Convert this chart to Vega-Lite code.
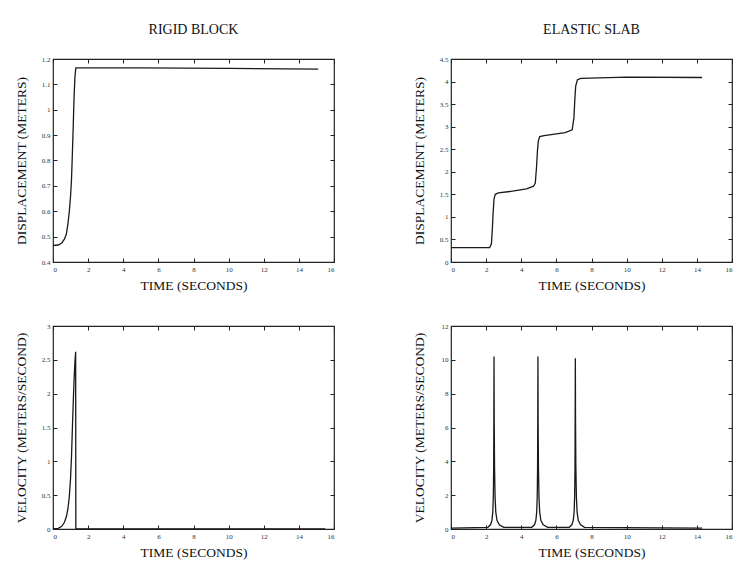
{
  "$schema": "https://vega.github.io/schema/vega-lite/v6.json",
  "background": "white",
  "padding": {"left": 13, "top": 22, "right": 5, "bottom": 5},
  "config": {
    "font": "Liberation Serif",
    "view": {"stroke": "#222", "strokeWidth": 1.2},
    "axis": {"domain": false, "grid": false, "tickSize": -4, "tickColor": "#222", "tickWidth": 1, "labelFontSize": 7, "labelColor": "#333", "labelPadding": 7, "titleFontSize": 13.5, "titleFontWeight": "normal", "titleColor": "#111", "labelFont": "Liberation Serif", "titleFont": "Liberation Serif"},
    "title": {"fontSize": 14, "font": "Liberation Serif", "fontWeight": "normal", "color": "#111"},
    "line": {"color": "#1a1a1a", "strokeWidth": 1.3}
  },
  "datasets": {
    "rigid_disp": [
      {"t": 0, "d": 0.465}, {"t": 0.3, "d": 0.467}, {"t": 0.5, "d": 0.475}, {"t": 0.65, "d": 0.49},
      {"t": 0.76, "d": 0.51}, {"t": 0.85, "d": 0.55}, {"t": 0.93, "d": 0.6}, {"t": 1.0, "d": 0.66},
      {"t": 1.05, "d": 0.72}, {"t": 1.1, "d": 0.82}, {"t": 1.15, "d": 0.93}, {"t": 1.2, "d": 1.05},
      {"t": 1.25, "d": 1.13}, {"t": 1.3, "d": 1.165}, {"t": 5, "d": 1.165}, {"t": 10, "d": 1.163}, {"t": 15.1, "d": 1.16}
    ],
    "rigid_vel": [
      {"t": 0, "v": 0}, {"t": 0.3, "v": 0.01}, {"t": 0.5, "v": 0.04}, {"t": 0.65, "v": 0.1},
      {"t": 0.76, "v": 0.18}, {"t": 0.85, "v": 0.3}, {"t": 0.93, "v": 0.48}, {"t": 1.0, "v": 0.75},
      {"t": 1.05, "v": 1.05}, {"t": 1.1, "v": 1.45}, {"t": 1.15, "v": 1.85}, {"t": 1.2, "v": 2.2},
      {"t": 1.25, "v": 2.48}, {"t": 1.29, "v": 2.62}, {"t": 1.3, "v": 0}, {"t": 15.5, "v": 0}
    ],
    "elastic_disp": [
      {"t": 0, "d": 0.32}, {"t": 2.2, "d": 0.32}, {"t": 2.3, "d": 0.4}, {"t": 2.35, "d": 0.7},
      {"t": 2.4, "d": 1.1}, {"t": 2.45, "d": 1.4}, {"t": 2.52, "d": 1.5}, {"t": 2.7, "d": 1.53},
      {"t": 3.5, "d": 1.57}, {"t": 4.3, "d": 1.62}, {"t": 4.7, "d": 1.68}, {"t": 4.8, "d": 1.75},
      {"t": 4.87, "d": 2.1}, {"t": 4.92, "d": 2.45}, {"t": 4.97, "d": 2.68}, {"t": 5.05, "d": 2.78},
      {"t": 5.3, "d": 2.8}, {"t": 6.5, "d": 2.87}, {"t": 6.9, "d": 2.93}, {"t": 7.0, "d": 3.2},
      {"t": 7.05, "d": 3.6}, {"t": 7.1, "d": 3.9}, {"t": 7.2, "d": 4.04}, {"t": 7.4, "d": 4.07},
      {"t": 10, "d": 4.1}, {"t": 14.3, "d": 4.09}
    ],
    "elastic_vel": [
      {"t": 0, "v": 0.05}, {"t": 2.1, "v": 0.1}, {"t": 2.25, "v": 0.25}, {"t": 2.33, "v": 0.5},
      {"t": 2.38, "v": 1.0}, {"t": 2.41, "v": 1.9}, {"t": 2.43, "v": 3.6}, {"t": 2.44, "v": 6.5},
      {"t": 2.45, "v": 10.2}, {"t": 2.46, "v": 6.5}, {"t": 2.48, "v": 3.6}, {"t": 2.51, "v": 1.9},
      {"t": 2.55, "v": 1.0}, {"t": 2.62, "v": 0.5}, {"t": 2.75, "v": 0.25}, {"t": 3.0, "v": 0.1},
      {"t": 4.6, "v": 0.1}, {"t": 4.75, "v": 0.25}, {"t": 4.83, "v": 0.5}, {"t": 4.88, "v": 1.0},
      {"t": 4.91, "v": 1.9}, {"t": 4.93, "v": 3.6}, {"t": 4.94, "v": 6.5}, {"t": 4.95, "v": 10.2},
      {"t": 4.96, "v": 6.5}, {"t": 4.98, "v": 3.6}, {"t": 5.01, "v": 1.9}, {"t": 5.05, "v": 1.0},
      {"t": 5.12, "v": 0.5}, {"t": 5.25, "v": 0.25}, {"t": 5.5, "v": 0.1},
      {"t": 6.73, "v": 0.1}, {"t": 6.88, "v": 0.25}, {"t": 6.96, "v": 0.5}, {"t": 7.01, "v": 1.0},
      {"t": 7.04, "v": 1.9}, {"t": 7.06, "v": 3.6}, {"t": 7.07, "v": 6.5}, {"t": 7.08, "v": 10.1},
      {"t": 7.09, "v": 6.5}, {"t": 7.11, "v": 3.6}, {"t": 7.14, "v": 1.9}, {"t": 7.18, "v": 1.0},
      {"t": 7.25, "v": 0.5}, {"t": 7.38, "v": 0.25}, {"t": 7.6, "v": 0.1}, {"t": 14.3, "v": 0.05}
    ]
  },
  "columns": 2,
  "spacing": {"row": 28, "column": 75},
  "concat": [
    {
      "title": {"text": "RIGID BLOCK", "offset": 18},
      "width": 281, "height": 203,
      "data": {"name": "rigid_disp"},
      "layer": [
        {
          "mark": {"type": "line"},
          "encoding": {
            "x": {"field": "t", "type": "quantitative", "scale": {"domain": [0, 16], "nice": false},
                  "axis": {"values": [0, 2, 4, 6, 8, 10, 12, 14, 16], "title": "TIME (SECONDS)", "titlePadding": 6}},
            "y": {"field": "d", "type": "quantitative", "scale": {"domain": [0.4, 1.2], "zero": false, "nice": false},
                  "axis": {"values": [0.4, 0.5, 0.6, 0.7, 0.8, 0.9, 1, 1.1, 1.2], "format": ".1~f", "title": "DISPLACEMENT (METERS)", "titlePadding": 13}}
          }
        },
        {
          "mark": {"type": "line", "opacity": 0},
          "encoding": {
            "x": {"field": "t", "type": "quantitative", "scale": {"domain": [0, 16], "nice": false},
                  "axis": {"orient": "top", "values": [0, 2, 4, 6, 8, 10, 12, 14, 16], "labels": false, "title": null}},
            "y": {"field": "d", "type": "quantitative", "scale": {"domain": [0.4, 1.2], "zero": false, "nice": false},
                  "axis": {"orient": "right", "values": [0.4, 0.5, 0.6, 0.7, 0.8, 0.9, 1, 1.1, 1.2], "labels": false, "title": null}}
          }
        }
      ],
      "resolve": {"axis": {"x": "independent", "y": "independent"}}
    },
    {
      "title": {"text": "ELASTIC SLAB", "offset": 18},
      "width": 281, "height": 203,
      "data": {"name": "elastic_disp"},
      "layer": [
        {
          "mark": {"type": "line"},
          "encoding": {
            "x": {"field": "t", "type": "quantitative", "scale": {"domain": [0, 16], "nice": false},
                  "axis": {"values": [0, 2, 4, 6, 8, 10, 12, 14, 16], "title": "TIME (SECONDS)", "titlePadding": 6}},
            "y": {"field": "d", "type": "quantitative", "scale": {"domain": [0, 4.5], "nice": false},
                  "axis": {"values": [0, 0.5, 1, 1.5, 2, 2.5, 3, 3.5, 4, 4.5], "format": ".1~f", "title": "DISPLACEMENT (METERS)", "titlePadding": 13}}
          }
        },
        {
          "mark": {"type": "line", "opacity": 0},
          "encoding": {
            "x": {"field": "t", "type": "quantitative", "scale": {"domain": [0, 16], "nice": false},
                  "axis": {"orient": "top", "values": [0, 2, 4, 6, 8, 10, 12, 14, 16], "labels": false, "title": null}},
            "y": {"field": "d", "type": "quantitative", "scale": {"domain": [0, 4.5], "nice": false},
                  "axis": {"orient": "right", "values": [0, 0.5, 1, 1.5, 2, 2.5, 3, 3.5, 4, 4.5], "labels": false, "title": null}}
          }
        }
      ],
      "resolve": {"axis": {"x": "independent", "y": "independent"}}
    },
    {
      "width": 281, "height": 203,
      "data": {"name": "rigid_vel"},
      "layer": [
        {
          "mark": {"type": "line"},
          "encoding": {
            "x": {"field": "t", "type": "quantitative", "scale": {"domain": [0, 16], "nice": false},
                  "axis": {"values": [0, 2, 4, 6, 8, 10, 12, 14, 16], "title": "TIME (SECONDS)", "titlePadding": 6}},
            "y": {"field": "v", "type": "quantitative", "scale": {"domain": [0, 3], "nice": false},
                  "axis": {"values": [0, 0.5, 1, 1.5, 2, 2.5, 3], "format": ".1~f", "title": "VELOCITY (METERS/SECOND)", "titlePadding": 13}}
          }
        },
        {
          "mark": {"type": "line", "opacity": 0},
          "encoding": {
            "x": {"field": "t", "type": "quantitative", "scale": {"domain": [0, 16], "nice": false},
                  "axis": {"orient": "top", "values": [0, 2, 4, 6, 8, 10, 12, 14, 16], "labels": false, "title": null}},
            "y": {"field": "v", "type": "quantitative", "scale": {"domain": [0, 3], "nice": false},
                  "axis": {"orient": "right", "values": [0, 0.5, 1, 1.5, 2, 2.5, 3], "labels": false, "title": null}}
          }
        }
      ],
      "resolve": {"axis": {"x": "independent", "y": "independent"}}
    },
    {
      "width": 281, "height": 203,
      "data": {"name": "elastic_vel"},
      "layer": [
        {
          "mark": {"type": "line"},
          "encoding": {
            "x": {"field": "t", "type": "quantitative", "scale": {"domain": [0, 16], "nice": false},
                  "axis": {"values": [0, 2, 4, 6, 8, 10, 12, 14, 16], "title": "TIME (SECONDS)", "titlePadding": 6}},
            "y": {"field": "v", "type": "quantitative", "scale": {"domain": [0, 12], "nice": false},
                  "axis": {"values": [0, 2, 4, 6, 8, 10, 12], "title": "VELOCITY (METERS/SECOND)", "titlePadding": 15}}
          }
        },
        {
          "mark": {"type": "line", "opacity": 0},
          "encoding": {
            "x": {"field": "t", "type": "quantitative", "scale": {"domain": [0, 16], "nice": false},
                  "axis": {"orient": "top", "values": [0, 2, 4, 6, 8, 10, 12, 14, 16], "labels": false, "title": null}},
            "y": {"field": "v", "type": "quantitative", "scale": {"domain": [0, 12], "nice": false},
                  "axis": {"orient": "right", "values": [0, 2, 4, 6, 8, 10, 12], "labels": false, "title": null}}
          }
        }
      ],
      "resolve": {"axis": {"x": "independent", "y": "independent"}}
    }
  ]
}
